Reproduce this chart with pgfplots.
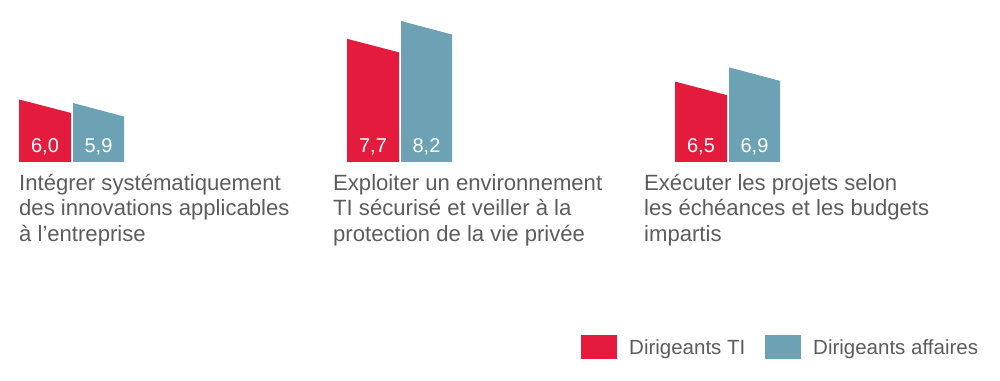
\documentclass[border=0pt]{standalone}
\usepackage{pgfplots}
\pgfplotsset{compat=1.18}
\usepackage{fontspec}
\setmainfont{Liberation Sans}
\definecolor{tired}{RGB}{228,27,60}
\definecolor{bizblue}{RGB}{108,162,180}
\definecolor{txt}{RGB}{92,92,94}
\tikzset{catlabel/.style={anchor=base west, inner sep=0pt, text=txt, font=\fontsize{22.1}{25}\selectfont}}
\begin{document}
\begin{tikzpicture}
\begin{axis}[
  scale only axis, width=1000pt, height=380pt,
  xmin=0, xmax=1000, ymin=-1.870, ymax=8.789,
  hide axis, clip=false,
]
% Dirigeants TI (left edge = value, top slanted down to the right)
\addplot[fill=tired, draw=none] coordinates {(19,4.245) (19,6.0) (71,5.62) (71,4.245)} -- cycle;
\addplot[fill=tired, draw=none] coordinates {(347,4.245) (347,7.7) (399,7.32) (399,4.245)} -- cycle;
\addplot[fill=tired, draw=none] coordinates {(675,4.245) (675,6.5) (727,6.12) (727,4.245)} -- cycle;
% Dirigeants affaires
\addplot[fill=bizblue, draw=none] coordinates {(73,4.245) (73,5.9) (124,5.52) (124,4.245)} -- cycle;
\addplot[fill=bizblue, draw=none] coordinates {(401,4.245) (401,8.2) (452,7.82) (452,4.245)} -- cycle;
\addplot[fill=bizblue, draw=none] coordinates {(729,4.245) (729,6.9) (780,6.52) (780,4.245)} -- cycle;
% value labels
\addplot[draw=none, mark=none, nodes near coords, point meta=explicit symbolic,
  every node near coord/.append style={anchor=base, yshift=9pt, inner sep=0pt, text=white, font=\fontsize{20}{24}\selectfont}]
  table[meta=lab] {
x y lab
45 4.245 6,0
98.5 4.245 5,9
373 4.245 7,7
426.5 4.245 8,2
701 4.245 6,5
754.5 4.245 6,9
};
% category labels
\node[catlabel] at (rel axis cs:0.019,0.49737) {Intégrer systématiquement};
\node[catlabel] at (rel axis cs:0.019,0.43158) {des innovations applicables};
\node[catlabel] at (rel axis cs:0.019,0.36579) {à l’entreprise};
\node[catlabel] at (rel axis cs:0.333,0.49737) {Exploiter un environnement};
\node[catlabel] at (rel axis cs:0.333,0.43158) {TI sécurisé et veiller à la};
\node[catlabel] at (rel axis cs:0.333,0.36579) {protection de la vie privée};
\node[catlabel] at (rel axis cs:0.644,0.49737) {Exécuter les projets selon};
\node[catlabel] at (rel axis cs:0.644,0.43158) {les échéances et les budgets};
\node[catlabel] at (rel axis cs:0.644,0.36579) {impartis};
% legend
\fill[tired] (rel axis cs:0.581,0.055263) rectangle (rel axis cs:0.617,0.118421);
\fill[bizblue] (rel axis cs:0.765,0.055263) rectangle (rel axis cs:0.801,0.118421);
\node[anchor=base west, inner sep=0pt, text=txt, font=\fontsize{20.5}{24}\selectfont] at (rel axis cs:0.629,0.068421) {Dirigeants TI};
\node[anchor=base west, inner sep=0pt, text=txt, font=\fontsize{20.5}{24}\selectfont] at (rel axis cs:0.813,0.068421) {Dirigeants affaires};
\end{axis}
\pgfresetboundingbox
\useasboundingbox (current axis.south west) rectangle (current axis.north east);
\end{tikzpicture}
\end{document}
